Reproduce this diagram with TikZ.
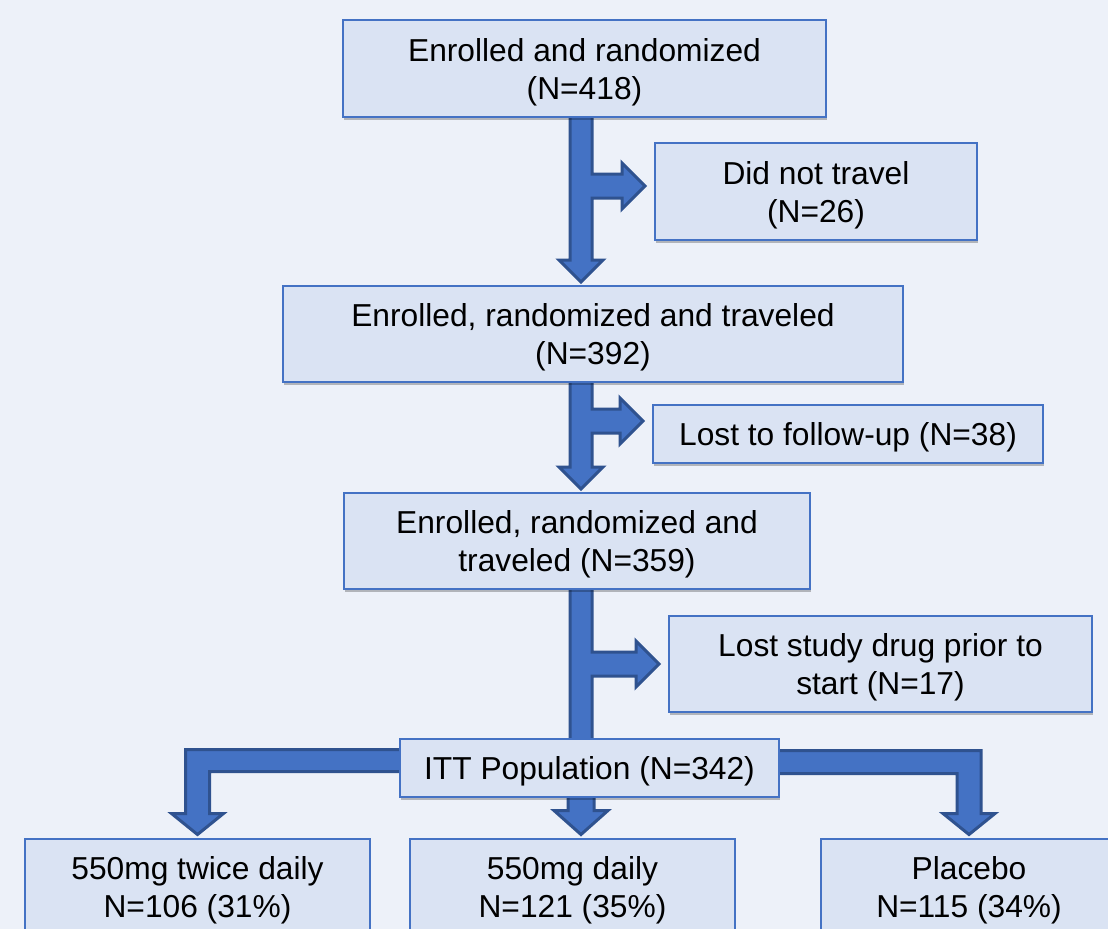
\documentclass[tikz,border=0pt]{standalone}
\usepackage{fontspec}
\setmainfont{Liberation Sans}
\usetikzlibrary{calc,shadows}

\definecolor{pagebg}{HTML}{EDF1F9}
\definecolor{boxfill}{HTML}{DAE3F3}
\definecolor{boxline}{HTML}{4472C4}
\definecolor{arrowfill}{HTML}{4472C4}
\definecolor{arrowline}{HTML}{2F528F}

\pgfdeclarelayer{bg}
\pgfdeclarelayer{arrows}
\pgfsetlayers{bg,arrows,main}

% block arrow sizes (px)
\newcommand\shaftw{11}
\newcommand\headw{22}
\newcommand\headl{22}
\newcommand\branchw{12}
\newcommand\branchh{23}
\newcommand\branchl{23}

% #1 top anchor, #2 tip anchor, #3 side anchor, #4 shaft axis, #5 branch level
\newcommand\brancharrow[5]{%
	\draw[blockarrow]
		($(#1 -| #4)+(-\shaftw,-6)$)
		-- ($(#2 -| #4)+(-\shaftw,-\headl-3)$) -- ++(\shaftw-\headw,0)
		-- ($(#2 -| #4)+(0,-3)$)
		-- ($(#2 -| #4)+(\headw,-\headl-3)$) -- ++(\shaftw-\headw,0)
		-- ($(#5 -| #4)+(\shaftw,\branchw)$)
		-- ($(#5 -| #3)+(-9-\branchl,\branchw)$) -- ++(0,\branchh-\branchw)
		-- ($(#5 -| #3)+(-9,0)$)
		-- ($(#5 -| #3)+(-9-\branchl,-\branchh)$) -- ++(0,\branchh-\branchw)
		-- ($(#5 -| #4)+(\shaftw,-\branchw)$)
		-- ($(#1 -| #4)+(\shaftw,-6)$) -- cycle;}

\begin{document}
\begin{tikzpicture}[x = 0.75pt, y = -0.75pt,
	box/.style = {draw = boxline, fill = boxfill, line width = 1.5pt,
		align = center, inner sep = 0pt, text depth = 0pt,
		font = \fontsize{23.8pt}{28.5pt}\selectfont,
		drop shadow = {shadow xshift = 1pt, shadow yshift = -2.5pt,
			opacity = 0.25, fill = black}},
	blockarrow/.style = {fill = arrowfill, draw = arrowline,
		line width = 2.25pt, line join = miter}]

	\useasboundingbox (0,0) rectangle (1108,929);
	\begin{pgfonlayer}{bg}
		\fill[pagebg] (0,0) rectangle (1108,929);
	\end{pgfonlayer}

	% boxes
	\node[box, minimum width = 362.25pt, minimum height = 72.75pt] (b1) at (584.5,68.5)
		{Enrolled and randomized\\(N=418)};
	\node[box, minimum width = 241.5pt, minimum height = 72.75pt] (b2) at (816,191.5)
		{Did not travel\\(N=26)};
	\node[box, minimum width = 465pt, minimum height = 72pt] (b3) at (593,334)
		{Enrolled, randomized and traveled\\(N=392)};
	\node[box, minimum width = 292.5pt, minimum height = 43.5pt] (b4) at (848,434)
		{Lost to follow-up (N=38)};
	\node[box, minimum width = 349.5pt, minimum height = 72pt] (b5) at (577,541)
		{Enrolled, randomized and\\traveled (N=359)};
	\node[box, minimum width = 317.25pt, minimum height = 72pt] (b6) at (880.5,664)
		{Lost study drug prior to\\start (N=17)};
	\node[box, minimum width = 284.25pt, minimum height = 43.5pt] (b7) at (589.5,768)
		{ITT Population (N=342)};
	\node[box, minimum width = 258.75pt, minimum height = 72.75pt] (b8) at (197.5,887)
		{550mg twice daily\\N=106 (31\%)};
	\node[box, minimum width = 243.75pt, minimum height = 72.75pt] (b9) at (572.5,887)
		{550mg daily\\N=121 (35\%)};
	\node[box, minimum width = 222pt, minimum height = 72.75pt] (b10) at (969,887)
		{Placebo\\N=115 (34\%)};

	% arrow axis and branch levels
	\coordinate (axis) at (581,0);
	\coordinate (br1) at (0,186);
	\coordinate (br2) at (0,421);
	\coordinate (br3) at (0,664);

	\begin{pgfonlayer}{arrows}
		\brancharrow{b1.south}{b3.north}{b2.west}{axis}{br1}
		\brancharrow{b3.south}{b5.north}{b4.west}{axis}{br2}
		\brancharrow{b5.south}{b7.center}{b6.west}{axis}{br3}

		% split to the three arms
		\draw[blockarrow] ($(b7.west)+(20,-18.5)$)
			-- ($(b7.west -| b8.north)+(-12,-18.5)$)
			-- ($(b8.north)+(-12,-24)$) -- ++(-14,0)
			-- ($(b8.north)+(0,-3)$)
			-- ($(b8.north)+(26,-24)$) -- ++(-14,0)
			-- ($(b7.west -| b8.north)+(12,3.5)$)
			-- ($(b7.west)+(20,3.5)$) -- cycle;
		\draw[blockarrow] ($(b7.south -| axis)+(-13,-10)$)
			-- ($(b9.north -| axis)+(-13,-27)$) -- ++(-14,0)
			-- ($(b9.north -| axis)+(0,-3)$)
			-- ($(b9.north -| axis)+(27,-27)$) -- ++(-14,0)
			-- ($(b7.south -| axis)+(13,-10)$) -- cycle;
		\draw[blockarrow] ($(b7.east)+(-20,-17.5)$)
			-- ($(b7.east -| b10.north)+(12,-17.5)$)
			-- ($(b10.north)+(12,-24)$) -- ++(14,0)
			-- ($(b10.north)+(0,-3)$)
			-- ($(b10.north)+(-26,-24)$) -- ++(14,0)
			-- ($(b7.east -| b10.north)+(-12,5.5)$)
			-- ($(b7.east)+(-20,5.5)$) -- cycle;
	\end{pgfonlayer}
\end{tikzpicture}
\end{document}
